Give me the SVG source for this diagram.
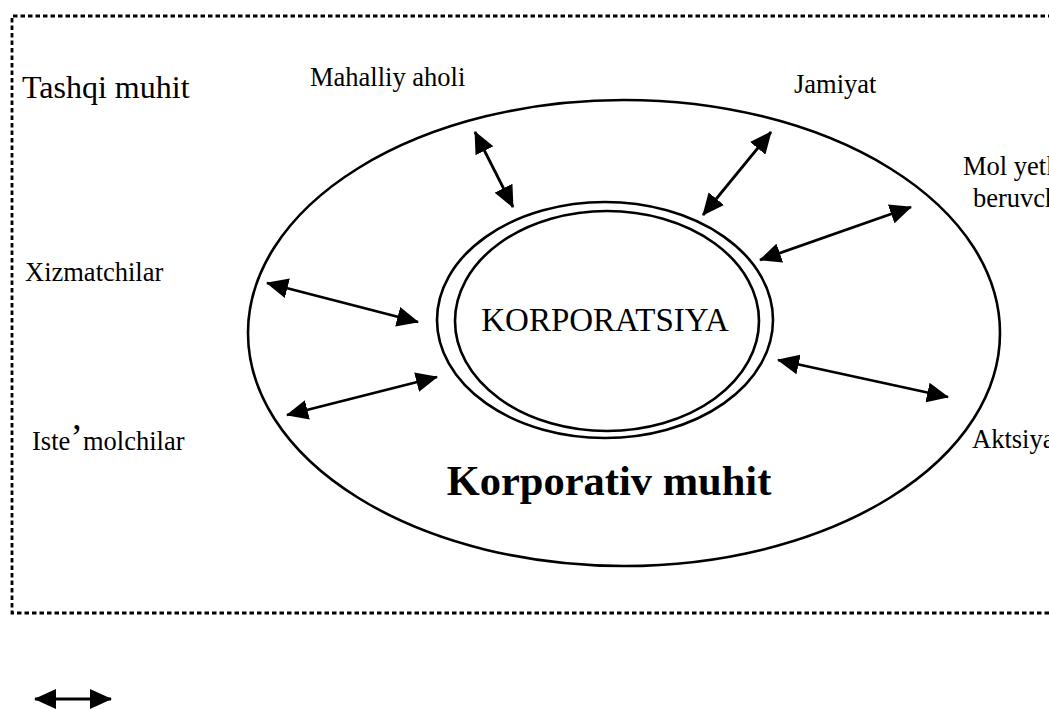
<svg xmlns="http://www.w3.org/2000/svg" width="1049" height="709" viewBox="0 0 1049 709">
<style>
.t{font-family:"Liberation Serif","Times New Roman",serif;fill:#000}
.lbl{font-size:26.5px}
.ln{stroke:#000;stroke-width:2.8;fill:none}
.ring{stroke:#000;stroke-width:2.6;fill:none}
</style>
<defs>
<marker id="ah" markerUnits="userSpaceOnUse" markerWidth="22" markerHeight="20" refX="21" refY="10" orient="auto-start-reverse" viewBox="0 0 22 20">
<path d="M0,0 L22,10 L0,20 z" fill="#000"/>
</marker>
</defs>
<rect width="1049" height="709" fill="#fff"/>
<g id="boundary">
<path d="M1060,16 H12 V613 H1060" fill="none" stroke="#000" stroke-width="2.8" stroke-dasharray="4.5 3"/>
<text class="t" x="22" y="98" font-size="32">Tashqi muhit</text>
</g>
<g id="corporate-env">
<ellipse class="ring" cx="624" cy="333" rx="376" ry="233"/>
<text class="t" x="609" y="495" font-size="42.5" font-weight="bold" text-anchor="middle">Korporativ muhit</text>
</g>
<g id="corporation">
<ellipse class="ring" cx="605" cy="320" rx="168" ry="118"/>
<ellipse class="ring" cx="607" cy="321" rx="152" ry="110"/>
<text class="t" x="605" y="331" font-size="33" text-anchor="middle">KORPORATSIYA</text>
</g>
<g id="mahalliy"><text class="t lbl" x="310" y="86">Mahalliy aholi</text></g>
<g id="jamiyat"><text class="t lbl" x="794" y="93">Jamiyat</text></g>
<g id="mol"><text class="t lbl" x="963" y="175">Mol yetkazib</text><text class="t lbl" x="973" y="207">beruvchilar</text></g>
<g id="xizmatchilar"><text class="t lbl" x="25" y="281">Xizmatchilar</text></g>
<g id="istemolchilar"><text class="t lbl" x="32" y="450">Iste<tspan font-size="38">’</tspan>molchilar</text></g>
<g id="aktsiyadorlar"><text class="t lbl" x="972" y="448">Aktsiyadorlar</text></g>
<g id="connectors">
<line class="ln" x1="475" y1="132" x2="513" y2="207" marker-start="url(#ah)" marker-end="url(#ah)"/>
<line class="ln" x1="771" y1="132" x2="703" y2="215" marker-start="url(#ah)" marker-end="url(#ah)"/>
<line class="ln" x1="911" y1="207" x2="760" y2="260" marker-start="url(#ah)" marker-end="url(#ah)"/>
<line class="ln" x1="267" y1="283" x2="418" y2="322" marker-start="url(#ah)" marker-end="url(#ah)"/>
<line class="ln" x1="287" y1="415" x2="437" y2="377" marker-start="url(#ah)" marker-end="url(#ah)"/>
<line class="ln" x1="778" y1="360" x2="948" y2="397" marker-start="url(#ah)" marker-end="url(#ah)"/>
<line class="ln" x1="35" y1="699" x2="111" y2="699" marker-start="url(#ah)" marker-end="url(#ah)"/>
</g>
</svg>
